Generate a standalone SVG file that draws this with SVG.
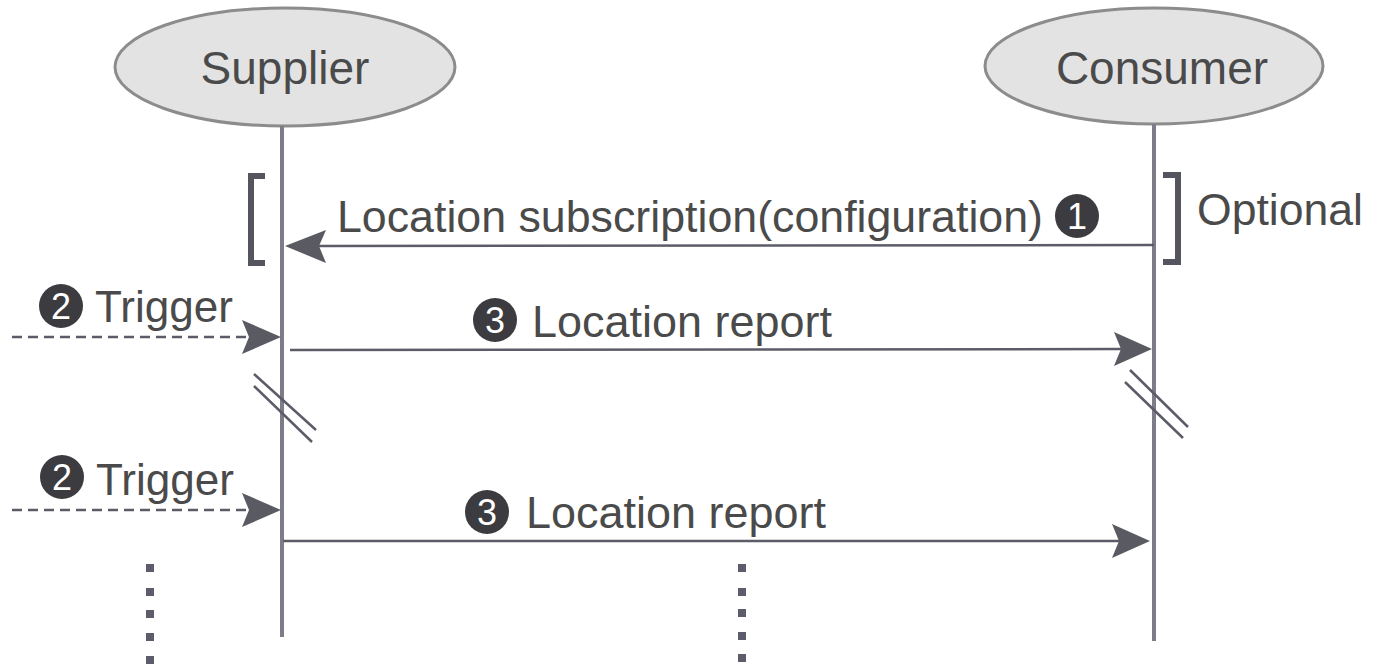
<svg xmlns="http://www.w3.org/2000/svg" width="1374" height="668" viewBox="0 0 1374 668">
  <defs>
    <style>
      .actor { fill: #e3e3e3; stroke: #8c8c8c; stroke-width: 3; }
      .name { font-family: "Liberation Sans", Arial, sans-serif; font-size: 46px; fill: #4a4a4a; text-anchor: middle; }
      .lbl { font-family: "Liberation Sans", Arial, sans-serif; font-size: 45px; fill: #4a4a4a; }
      .life { stroke: #7d7d8a; stroke-width: 4; fill: none; }
      .msg { stroke: #5c5c68; stroke-width: 2.5; fill: none; }
      .dash { stroke: #5c5c68; stroke-width: 2.5; fill: none; stroke-dasharray: 10 6; }
      .head { fill: #5a5a62; }
      .brk { stroke: #5c5c68; stroke-width: 2.5; fill: none; }
      .bracket { stroke: #555560; stroke-width: 6; fill: none; }
      .num { fill: #3c3c40; }
      .numt { font-family: "Liberation Sans", Arial, sans-serif; font-size: 36px; fill: #ffffff; text-anchor: middle; }
      .dot { fill: #5c5c6a; }
    </style>
  </defs>

  <rect x="0" y="0" width="1374" height="668" fill="#ffffff"/>

  <g id="supplier">
    <ellipse class="actor" cx="285" cy="67" rx="170" ry="59"/>
    <text class="name" x="285" y="84">Supplier</text>
    <line class="life" x1="282" y1="126" x2="282" y2="637"/>
  </g>

  <g id="consumer">
    <ellipse class="actor" cx="1154" cy="66" rx="169" ry="58"/>
    <text class="name" x="1162" y="84">Consumer</text>
    <line class="life" x1="1154" y1="124" x2="1154" y2="641"/>
  </g>

  <g id="optional">
    <path class="bracket" d="M265,176 H251 V263 H265"/>
    <path class="bracket" d="M1163,175 H1178 V262 H1163"/>
    <text class="lbl" x="1197" y="225" textLength="166" lengthAdjust="spacingAndGlyphs">Optional</text>
  </g>

  <g id="connectors">
    <line class="msg" x1="1154" y1="245" x2="318" y2="246"/>
    <polygon class="head" points="285,246 326,230 319,246 326,263"/>
    <line class="dash" x1="12" y1="337" x2="248" y2="337"/>
    <polygon class="head" points="281,337 242,320 249,337 242,354"/>
    <line class="msg" x1="290" y1="350" x2="1122" y2="349"/>
    <polygon class="head" points="1152,349 1114,332 1121,349 1114,366"/>
    <line class="brk" x1="254" y1="374" x2="316" y2="430"/>
    <line class="brk" x1="254" y1="386" x2="312" y2="442"/>
    <line class="brk" x1="1130" y1="370" x2="1188" y2="427"/>
    <line class="brk" x1="1125" y1="382" x2="1183" y2="438"/>
    <line class="dash" x1="12" y1="510" x2="248" y2="510"/>
    <polygon class="head" points="281,510 242,493 249,510 242,527"/>
    <line class="msg" x1="283" y1="541" x2="1120" y2="541"/>
    <polygon class="head" points="1150,541 1112,524 1119,541 1112,558"/>
  </g>

  <g id="labels">
    <text class="lbl" x="337" y="232" textLength="706" lengthAdjust="spacingAndGlyphs">Location subscription(configuration)</text>
    <circle class="num" cx="1077" cy="216" r="22"/>
    <text class="numt" x="1077" y="229">1</text>

    <circle class="num" cx="61" cy="306" r="22"/>
    <text class="numt" x="61" y="319">2</text>
    <text class="lbl" x="95" y="322" textLength="138" lengthAdjust="spacingAndGlyphs">Trigger</text>

    <circle class="num" cx="495" cy="320" r="22"/>
    <text class="numt" x="495" y="333">3</text>
    <text class="lbl" x="532" y="337" textLength="300" lengthAdjust="spacingAndGlyphs">Location report</text>

    <circle class="num" cx="62" cy="477" r="22"/>
    <text class="numt" x="62" y="490">2</text>
    <text class="lbl" x="96" y="495" textLength="138" lengthAdjust="spacingAndGlyphs">Trigger</text>

    <circle class="num" cx="487" cy="512" r="22"/>
    <text class="numt" x="487" y="525">3</text>
    <text class="lbl" x="526" y="528" textLength="300" lengthAdjust="spacingAndGlyphs">Location report</text>
  </g>

  <g id="continuation">
    <rect class="dot" x="146" y="564" width="8" height="8"/>
    <rect class="dot" x="146" y="588" width="8" height="8"/>
    <rect class="dot" x="146" y="610" width="8" height="8"/>
    <rect class="dot" x="146" y="633" width="8" height="8"/>
    <rect class="dot" x="146" y="656" width="8" height="8"/>
    <rect class="dot" x="738" y="564" width="8" height="8"/>
    <rect class="dot" x="738" y="588" width="8" height="8"/>
    <rect class="dot" x="738" y="609" width="8" height="8"/>
    <rect class="dot" x="738" y="632" width="8" height="8"/>
    <rect class="dot" x="738" y="654" width="8" height="8"/>
  </g>
</svg>
